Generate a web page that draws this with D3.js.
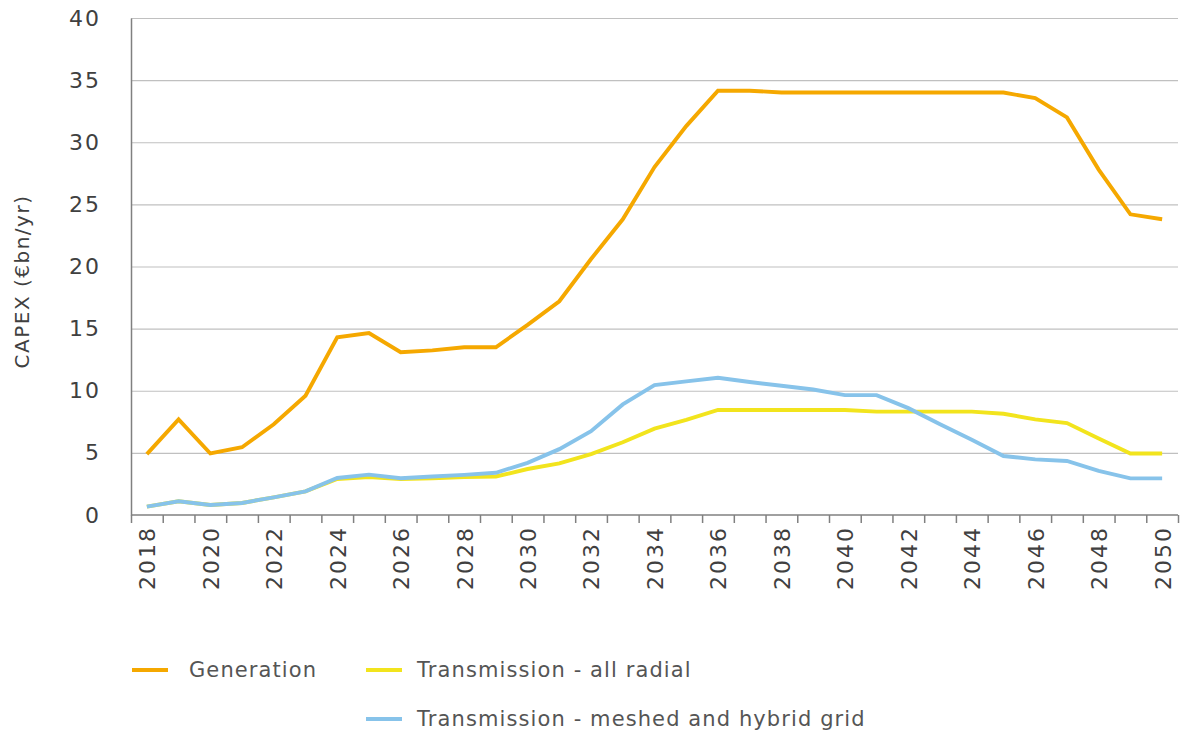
<!DOCTYPE html>
<html>
<head>
<meta charset="utf-8">
<script src="https://cdn.jsdelivr.net/npm/d3@7"></script>
<style>
  body { margin: 0; background: #fff; }
  svg text { font-family: "DejaVu Sans", "Noto Sans", sans-serif; }
</style>
</head>
<body>
<div id="chart"></div>
<script>
// data
const years = d3.range(2018, 2051);
const generation = [4.9, 7.7, 4.95, 5.45, 7.3, 9.6, 14.3, 14.65, 13.1, 13.25, 13.5, 13.5, 15.3,
  17.2, 20.6, 23.8, 28.0, 31.3, 34.15, 34.15, 34.0, 34.0, 34.0, 34.0, 34.0, 34.0, 34.0, 34.0,
  33.55, 32.0, 27.8, 24.2, 23.8];
const allRadial = [0.67, 1.1, 0.8, 0.97, 1.42, 1.9, 2.9, 3.05, 2.9, 2.95, 3.05, 3.1, 3.7,
  4.15, 4.9, 5.85, 6.95, 7.65, 8.45, 8.45, 8.45, 8.45, 8.45, 8.32, 8.32, 8.32, 8.32, 8.15,
  7.7, 7.4, 6.15, 4.95, 4.95];
const meshed = [0.67, 1.1, 0.8, 0.97, 1.42, 1.9, 2.98, 3.25, 2.96, 3.1, 3.23, 3.4, 4.2,
  5.3, 6.75, 8.9, 10.45, 10.75, 11.05, 10.7, 10.4, 10.1, 9.65, 9.65, 8.6, 7.3, 6.05, 4.75,
  4.48, 4.35, 3.55, 2.95, 2.95];
const seriesNames = ["Generation", "Transmission - all radial", "Transmission - meshed and hybrid grid"];
const seriesColors = ["#f5a800", "#f2e41d", "#87c3ea"];
const yTicks = [0, 5, 10, 15, 20, 25, 30, 35, 40];
const yearLabels = d3.range(2018, 2051, 2);

const margins = { top: 18, right: 2, bottom: 221, left: 131 };
const W = 1180, H = 736;

const x_scale = d3.scaleLinear().domain([2017.5, 2050.5]).range([margins.left, W - margins.right]);
const y_scale = d3.scaleLinear().domain([0, 40]).range([H - margins.bottom, margins.top]);

const svg = d3.select("#chart").append("svg")
  .attr("width", W).attr("height", H);

// gridlines
svg.append("g")
  .attr("class", "grid")
  .attr("transform", `translate(${margins.left},0)`)
  .call(d3.axisLeft(y_scale).tickValues(yTicks.slice(1)).tickSize(-(W - margins.right - margins.left)).tickFormat(""))
  .call(g => g.select(".domain").remove())
  .selectAll("line").attr("stroke", "#c0c0c0").attr("stroke-width", 1.2);

// y axis labels
svg.append("g")
  .attr("transform", `translate(${margins.left},0)`)
  .call(d3.axisLeft(y_scale).tickValues(yTicks).tickSize(0).tickPadding(30))
  .call(g => g.select(".domain").attr("stroke", "#808080").attr("stroke-width", 1.5))
  .selectAll("text").attr("font-size", 22).attr("letter-spacing", 2).attr("fill", "#404040");

// x axis ticks at year boundaries
svg.append("g")
  .attr("transform", `translate(0,${y_scale(0)})`)
  .call(d3.axisBottom(x_scale).tickValues(d3.range(2017.5, 2051, 1)).tickSize(8).tickFormat(""))
  .call(g => g.select(".domain").attr("stroke", "#808080").attr("stroke-width", 1.5).attr("d", `M${margins.left},0H${W - margins.right}`))
  .selectAll("line").attr("stroke", "#808080").attr("stroke-width", 1.5);

// x axis labels, rotated
svg.append("g")
  .attr("transform", `translate(0,${y_scale(0)})`)
  .call(d3.axisBottom(x_scale).tickValues(yearLabels).tickSize(0).tickFormat(d3.format("d")))
  .call(g => g.select(".domain").remove())
  .selectAll("text")
  .attr("transform", "rotate(-90)")
  .attr("x", -11).attr("y", 0).attr("dy", "0.36em")
  .attr("text-anchor", "end")
  .attr("font-size", 22).attr("letter-spacing", 2).attr("fill", "#404040");

// y axis title
svg.append("text")
  .attr("transform", `translate(29,${(y_scale(0) + y_scale(40)) / 2 + 15}) rotate(-90)`)
  .attr("text-anchor", "middle")
  .attr("font-size", 20).attr("letter-spacing", 1.5).attr("fill", "#404040")
  .text("CAPEX (€bn/yr)");

const line = d3.line()
  .x((d, i) => x_scale(years[i]))
  .y(d => y_scale(d));

[generation, allRadial, meshed].forEach((vals, k) => {
  svg.append("path")
    .datum(vals)
    .attr("fill", "none")
    .attr("stroke", seriesColors[k])
    .attr("stroke-width", 3.9)
    .attr("stroke-linejoin", "miter")
    .attr("d", line);
});

// legend
const legendPos = [[132, 670], [366, 670], [366, 719]];
const legend = svg.append("g").selectAll("g")
  .data(seriesNames)
  .join("g")
  .attr("transform", (d, i) => `translate(${legendPos[i][0]},${legendPos[i][1]})`);
legend.append("line")
  .attr("x1", 0).attr("x2", 36)
  .attr("stroke", (d, i) => seriesColors[i])
  .attr("stroke-width", 4);
legend.append("text")
  .attr("x", (d, i) => i === 0 ? 57 : 51)
  .attr("dy", "0.35em")
  .attr("font-size", 21).attr("letter-spacing", 1.1).attr("fill", "#555")
  .text(d => d);
</script>
</body>
</html>
